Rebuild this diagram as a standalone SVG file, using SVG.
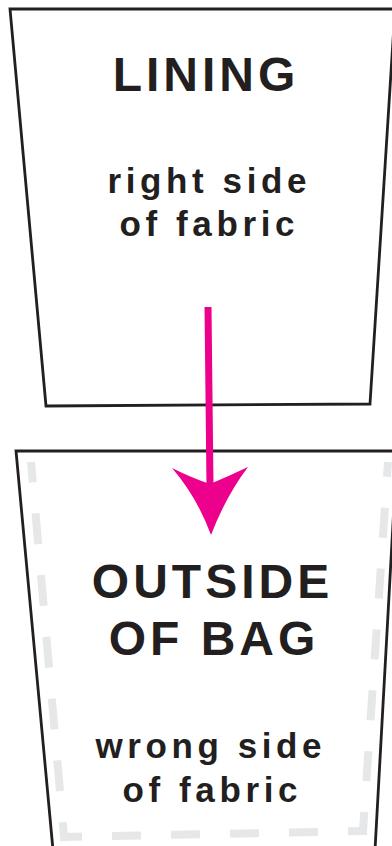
<svg xmlns="http://www.w3.org/2000/svg" width="392" height="846" viewBox="0 0 392 846">
  <style>
    .piece { fill: #ffffff; stroke: #231f20; stroke-width: 2.8; stroke-linejoin: miter; }
    .seam { fill: none; stroke: #e6e7e8; stroke-width: 8; stroke-linecap: butt; }
    .title { font-family: "Liberation Sans", Arial, sans-serif; font-weight: bold; font-size: 48px; letter-spacing: 4px; fill: #231f20; text-anchor: middle; }
    .sub { font-family: "Liberation Sans", Arial, sans-serif; font-weight: bold; font-size: 35px; letter-spacing: 4.6px; fill: #231f20; text-anchor: middle; }
    .arrow-line { stroke: #ec008c; stroke-width: 7; fill: none; }
    .arrow-head { fill: #ec008c; stroke: none; }
  </style>
  <rect width="392" height="846" fill="#ffffff"/>
  <g id="lining">
    <polygon class="piece" points="10,9 395,9 370,404 46,406"/>
    <text class="title" x="206" y="91">LINING</text>
    <text class="sub" x="209.3" y="193">right side</text>
    <text class="sub" x="209.3" y="236">of fabric</text>
  </g>
  <g id="outside-of-bag">
    <polygon class="piece" points="16,451 397,451 375,850 53,850"/>
    <path class="seam" d="M64.35,841 L31,462" stroke-dasharray="31 31" stroke-dashoffset="12"/>
    <path class="seam" d="M60,837 L367,831" stroke-dasharray="29 30" stroke-dashoffset="7"/>
    <path class="seam" d="M363,831 L388,462" stroke-dasharray="30 31" stroke-dashoffset="11"/>
    <text class="title" x="212.5" y="598">OUTSIDE</text>
    <text class="title" x="214" y="655">OF BAG</text>
    <text class="sub" x="210.8" y="758">wrong side</text>
    <text class="sub" x="212.3" y="802">of fabric</text>
  </g>
  <g id="connectors">
    <line class="arrow-line" x1="208" y1="307" x2="210" y2="486"/>
    <path class="arrow-head" d="M172,468 Q192,478 210,484 Q229,476 248,467 Q226,496 211,535 Q197,497 172,468 Z"/>
  </g>
</svg>
